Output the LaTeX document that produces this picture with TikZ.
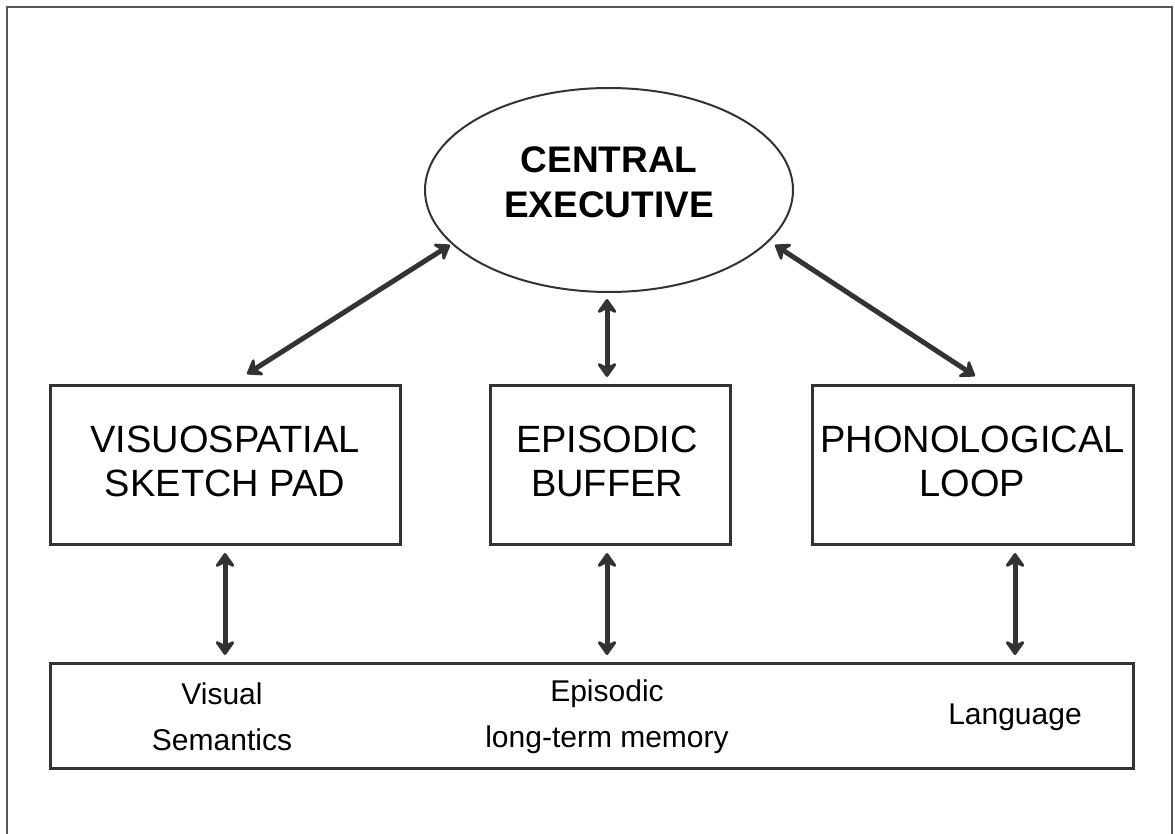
\documentclass[tikz,border=0pt]{standalone}
\usepackage{fontspec}
\setmainfont{Liberation Sans}
\usetikzlibrary{shapes.geometric,arrows.meta}
\definecolor{ink}{HTML}{333333}
\definecolor{framegray}{HTML}{555555}
\tikzset{
  unitbox/.style={draw=ink, line width=3pt, rectangle, inner sep=0pt},
  boxlabel/.style={align=center, font=\fontsize{38}{44}\selectfont, text=black},
  memlabel/.style={align=center, font=\fontsize{30}{46}\selectfont, text=black},
  duplex/.style={draw=ink, line width=5pt,
    {Stealth[length=17pt,width=24pt,inset=6pt,round]}-{Stealth[length=17pt,width=24pt,inset=6pt,round]}},
}
\begin{document}
\begin{tikzpicture}[x=1pt,y=-1pt]
\useasboundingbox (0,0) rectangle (1175,834);
% outer frame (open at the bottom edge)
\draw[framegray, line width=2pt] (7,850) -- (7,7) -- (1172,7) -- (1172,850);

% central executive
\node[ellipse, draw=ink, line width=2pt, minimum width=368pt, minimum height=204pt, inner sep=0pt]
  (ce) at (609,190) {};
\node[align=center, font=\fontsize{37}{45}\selectfont\bfseries] (celabel) at (609,182) {CENTRAL\\EXECUTIVE};

% slave systems
\node[unitbox, minimum width=350pt, minimum height=159pt] (vsp) at (225,465) {};
\node[unitbox, minimum width=240pt, minimum height=159pt] (eb) at (610,465) {};
\node[unitbox, minimum width=321pt, minimum height=159pt] (pl) at (972.5,465) {};
\node[boxlabel] (vsplabel) at (225,461) {VISUOSPATIAL\\SKETCH PAD};
\node[boxlabel] (eblabel) at (607,461) {EPISODIC\\BUFFER};
\node[boxlabel] (pllabel) at (972.5,461) {PHONOLOGICAL\\LOOP};

% long-term stores
\node[unitbox, minimum width=1083pt, minimum height=105pt] (ltm) at (591.5,715.5) {};
\node[memlabel] (visual) at (222,717) {Visual\\Semantics};
\node[memlabel] (episodic) at (607,717) {Episodic\\long-term memory};
\node[memlabel] (language) at (1015,717) {Language};

% arrow end points
\coordinate (ceL) at (450,245);
\coordinate (ceB) at (607,299);
\coordinate (ceR) at (775,245);
\coordinate (vspT) at (247,374);
\coordinate (ebT) at (607,377);
\coordinate (plT) at (975,376);
\coordinate (vspB) at (225,553);
\coordinate (ebB) at (607,553);
\coordinate (plB) at (1015,553);
\coordinate (ltmL) at (225,655);
\coordinate (ltmM) at (607,655);
\coordinate (ltmR) at (1015,655);

\draw[duplex] (vspT) -- (ceL);
\draw[duplex] (ebT) -- (ceB);
\draw[duplex] (plT) -- (ceR);
\draw[duplex] (vspB) -- (ltmL);
\draw[duplex] (ebB) -- (ltmM);
\draw[duplex] (plB) -- (ltmR);
\end{tikzpicture}
\end{document}
